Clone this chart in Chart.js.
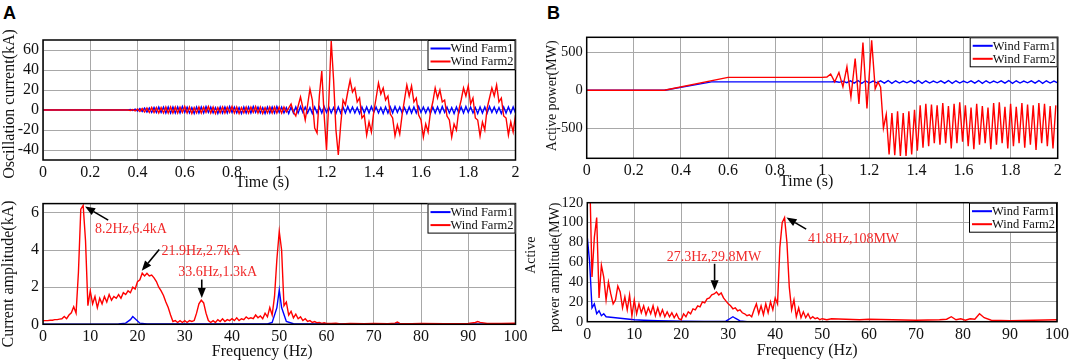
<!DOCTYPE html>
<html>
<head>
<meta charset="utf-8">
<script src="https://cdn.jsdelivr.net/npm/chart.js@4.4.1/dist/chart.umd.min.js"></script>
<style>
  body { margin: 0; background: #fff; width: 1072px; height: 361px; position: relative; overflow: hidden; }
  .panel { position: absolute; }
  .tag { position: absolute; font: bold 18px "Liberation Sans", Arial, sans-serif; line-height: 18px; color: #000; }
</style>
</head>
<body>
<div class="tag" style="left:3px;top:4px">A</div>
<div class="tag" style="left:547px;top:4px">B</div>
<div class="panel" style="left:0;top:0"><canvas id="aTop" width="536" height="192"></canvas></div>
<div class="panel" style="left:0;top:190px"><canvas id="aBottom" width="536" height="171"></canvas></div>
<div class="panel" style="left:520px;top:0"><canvas id="bTop" width="552" height="192"></canvas></div>
<div class="panel" style="left:520px;top:190px"><canvas id="bBottom" width="552" height="171"></canvas></div>
<script>
// ---------- tick values ----------
const timeTicks = [0, 0.2, 0.4, 0.6, 0.8, 1, 1.2, 1.4, 1.6, 1.8, 2];
const freqTicks = [0, 10, 20, 30, 40, 50, 60, 70, 80, 90, 100];
const currentTicks = [-40, -20, 0, 20, 40, 60];
const currentAmpTicks = [0, 2, 4, 6];
const powerTicks = [-500, 0, 500];
const powerAmpTicks = [0, 20, 40, 60, 80, 100, 120];

// ---------- A top: oscillation current (kA) ----------
// flat part as knots, then samples every 10 ms from 0.37 s
const currentRunStart = 0.37, currentRunStep = 0.01;
const wf1CurrentKnotT = [0, 0.36];
const wf1CurrentKnotV = [0, 0];
const wf1CurrentRun = [
  0.5, -0.5, 1, -1, 1.5, -1.5, 2, -2, 2, -2.5,
  2.5, -2.5, 3, -2.5, 3, -3, 3, -3, 3, -3,
  3, -3, 3.5, -2.5, 3, -3, 2.5, -3.5, 3, -3,
  3, -3, 3.5, -2.5, 3, -3, 2.5, -3.5, 3, -3,
  3, -3, 3.5, -2.5, 3, -3, 2.5, -3.5, 3, -3,
  3, -3, 3.5, -2.5, 3, -3, 2.5, -3.5, 3, -3,
  3, -3, 3.5, -2.5, 3, -3, 2.5, -3.5, 3, -3,
  3, -3, 3.5, -2.5, 3, -3, 2.5, -3.5, 3, -3,
  3, -3, 3.5, -2.5, 3, -3, 2.5, -3.5, 3, -3,
  3, -3, 3.5, -2.5, 3, -3, 2.5, -3.5, 3, -3,
  3, -3, 3.5, -2.5, 3, -3, 2.5, -3.5, 3, -3,
  3, -3, 3.5, -2.5, 3, -3, 2.5, -3.5, 3, -3,
  3, -3, 3.5, -2.5, 3, -3, 2.5, -3.5, 3, -3,
  3, -3, 3.5, -2.5, 3, -3, 2.5, -3.5, 3, -3,
  3, -3, 3.5, -2.5, 3, -3, 2.5, -3.5, 3, -3,
  3, -3, 3.5, -2.5, 3, -3, 2.5, -3.5, 3, -3,
  3, -3, 3, -3
];
const wf2CurrentKnotT = [0, 0.36];
const wf2CurrentKnotV = [0, 0];
const wf2CurrentRun = [
  -0.5, 0.5, -1, 1, -1.5, 1.5, -2, 2, -2.5, 2.5,
  -2.5, 2.5, -3, 2.5, -3, 3, -3, 3, -3, 3,
  -3, 3, -2.5, 3.5, -3, 3, -3.5, 2.5, -3, 3,
  -3, 3, -2.5, 3.5, -3, 3, -3.5, 2.5, -3, 3,
  -3, 3, -2.5, 3.5, -3, 3, -3.5, 2.5, -3, 3,
  -3, 3, -2.5, 3.5, -3, 3, -3.5, 2.5, -3, 3,
  -3, 3, -3,
  3, -3, 3, -2, 2, 6, -2, -6, 4, 13,
  2, -10, 5, 21, 10, -18, -23, 15, 39, -5,
  -40, 10, 69, 30, -20, -45, -15, 10, 5, 18,
  30, 18, 22, 8, 12, -8, -5, -25, -12, -22,
  -2, 12, 27, 16, 22, 10, 14, -4, -8, -26,
  -15, -24, -5, 10, 25, 14, 24, 8, 12, -5,
  -10, -27, -14, -22, -2, 8, 22, 12, 20, 8,
  10, -6, -10, -27, -14, -20, 0, 10, 22, 14,
  24, 6, 12, -8, -10, -26, -12, -20, 2, 12,
  22, 14, 25, 8, 12, -6, -8, -25, -12, -22,
  -5
];

// ---------- A bottom: current amplitude spectrum (kA) ----------
const wf1CurAmpKnotF = [0, 16, 17.5, 18.5, 19, 19.5, 20.5, 22, 47.5, 48.5, 49.5, 50, 50.5, 51.5, 53, 100];
const wf1CurAmpKnotV = [0, 0.02, 0.06, 0.25, 0.42, 0.3, 0.06, 0.02, 0.02, 0.1, 0.9, 1.85, 0.9, 0.15, 0.03, 0];
const curAmpRunStart = 0, curAmpRunStep = 0.5;
const wf2CurAmpRun = [
  0.2, 0.2, 0.2, 0.22, 0.22, 0.25, 0.25, 0.28, 0.3, 0.42,
  0.3, 0.5, 0.62, 0.95, 0.6, 2.8, 6.2, 6.4, 4.5, 1.0,
  1.8, 1.1, 1.5, 0.9, 1.4, 1.1, 1.5, 1.2, 1.6, 1.3,
  1.5, 1.4, 1.6, 1.4, 1.7, 1.6, 1.8, 1.7, 2.0, 1.9,
  2.3, 2.4, 2.75, 2.6, 2.75, 2.6, 2.65, 2.5, 2.3, 2.0,
  1.8, 1.55, 1.2, 0.9, 0.5, 0.15, 0.2, 0.1, 0.2, 0.1,
  0.2, 0.1, 0.2, 0.15, 0.2, 0.6, 1.1, 1.3, 1.15, 0.6,
  0.2, 0.1, 0.2, 0.1, 0.25, 0.15, 0.3, 0.15, 0.25, 0.2,
  0.3, 0.2, 0.35, 0.2, 0.3, 0.25, 0.4, 0.3, 0.35, 0.3,
  0.5, 0.35, 0.45, 0.3, 0.6, 0.4, 0.9, 0.5, 1.5, 3.5,
  5.0, 4.0, 1.0, 1.2, 0.5, 0.7, 0.35, 0.55, 0.3, 0.4,
  0.2, 0.3, 0.15, 0.2, 0.1, 0.15, 0.08, 0.1, 0.05, 0.08,
  0.05
];
const wf2CurAmpKnotF = [61, 62, 63, 65, 68, 70, 73, 74.5, 75, 75.5, 78, 80, 85, 90, 91.5, 92, 92.5, 94, 97, 100];
const wf2CurAmpKnotV = [0.04, 0.06, 0.02, 0.05, 0.03, 0.05, 0.03, 0.06, 0.12, 0.05, 0.03, 0.05, 0.03, 0.05, 0.1, 0.15, 0.1, 0.04, 0.05, 0.06];

// ---------- B top: active power (MW) ----------
const wf1PowerKnotT = [0, 0.33, 0.53, 1.04];
const wf1PowerKnotV = [0, 0, 110, 110];
const wf1PowerRunStart = 1.056, wf1PowerRunStep = 0.016;
const wf1PowerRun = [
  115, 105, 120, 100,
  125, 95, 128, 92, 125, 95, 122, 98,
  125, 95, 128, 92, 125, 95, 122, 98,
  125, 95, 128, 92, 125, 95, 122, 98,
  125, 95, 128, 92, 125, 95, 122, 98,
  125, 95, 128, 92, 125, 95, 122, 98,
  125, 95, 128, 92, 125, 95, 122, 98,
  125, 95, 128, 92, 125, 95, 122, 98
];
const wf2PowerKnotT = [0, 0.33, 0.6, 1.0, 1.02, 1.036, 1.053, 1.071, 1.088, 1.105, 1.122, 1.14, 1.156, 1.173, 1.19, 1.21, 1.225, 1.237, 1.248];
const wf2PowerKnotV = [0, 0, 170, 170, 175, 215, 110, 235, 45, 310, -90, 420, -180, 630, -240, 660, 20, 110, 40];
const wf2PowerRunStart = 1.26, wf2PowerRunStep = 0.012;
const wf2PowerRun = [
  -500, -320, -850, -300, -860, -280, -870, -300, -870, -280,
  -850, -260, -800, -200, -760, -180, -740, -190, -700, -200,
  -720, -170, -700, -210, -770, -180, -700, -160, -680, -200,
  -740, -230, -780, -180, -720, -210, -700, -230, -780, -170,
  -720, -160, -700, -220, -770, -180, -740, -220, -700, -170,
  -760, -190, -720, -200, -790, -170, -700, -180, -740, -210,
  -770, -200
];

// ---------- B bottom: active power amplitude spectrum (MW) ----------
const wf1PowAmpKnotF = [0, 0.5, 1, 1.5, 2, 2.5, 3, 3.5, 4, 5, 6, 7, 8, 10, 12, 15, 20, 25, 29.5, 30.5, 31, 31.5, 32.5, 34, 100];
const wf1PowAmpKnotV = [85, 60, 14, 18, 8, 11, 6, 8, 5, 4.5, 4, 3.5, 3, 2, 1.5, 1, 0.5, 0.3, 0.5, 3.5, 5, 3.5, 0.8, 0, 0];
const powAmpRunStart = 0, powAmpRunStep = 0.5;
const wf2PowAmpRun = [
  180, 150, 45, 85, 105, 24, 57, 45, 22, 40,
  28, 18, 22, 36, 30, 14, 25, 12, 27, 6,
  22, 8, 18, 9, 16, 7, 14, 8, 16, 6,
  14, 6, 12, 5, 10, 5, 9, 4, 8, 3,
  2, 8, 5, 10, 8, 13, 12, 16, 15, 20,
  19, 23, 24, 27, 28, 30, 27, 29, 24, 21,
  18, 16, 13, 14, 11, 12, 9, 8, 6, 7,
  5, 12, 18, 8, 16, 7, 18, 9, 20, 12,
  24, 18, 75, 100, 105, 80, 35, 12, 22, 5,
  14, 4, 10, 4, 8, 3, 5, 3, 4, 2,
  3
];
const wf2PowAmpKnotF = [51, 52, 55, 58, 60, 65, 70, 75, 76.5, 77.5, 78.5, 79.5, 80.5, 81.5, 82.5, 83.5, 84.5, 86, 90, 95, 100];
const wf2PowAmpKnotV = [2, 3, 2.5, 2, 2.5, 2, 1.5, 2, 2.5, 5, 2, 3, 1.5, 3, 2.5, 8, 4, 1.5, 1, 1.5, 2];

// ---------- styling ----------
const RED = '#ff0000';
const BLUE = '#0000ff';
const NOTE_RED = '#f02a2a';
const GRID = '#a8a8a8';
const INK = '#111';
const SERIF = '"Liberation Serif", "Times New Roman", serif';

function buildPoints(knotX, knotY, runStart, runStep, run) {
  const pts = knotX.map((x, i) => ({ x: x, y: knotY[i] }));
  (run || []).forEach((v, i) => pts.push({ x: +(runStart + i * runStep).toFixed(4), y: v }));
  return pts.sort((a, b) => a.x - b.x);
}

function arrow(ctx, x1, y1, x2, y2) {
  const ang = Math.atan2(y2 - y1, x2 - x1);
  const head = 10, half = 4;
  const c = Math.cos(ang), s = Math.sin(ang);
  ctx.strokeStyle = '#000';
  ctx.fillStyle = '#000';
  ctx.lineWidth = 1.6;
  ctx.beginPath();
  ctx.moveTo(x1, y1);
  ctx.lineTo(x2 - head * c, y2 - head * s);
  ctx.stroke();
  ctx.beginPath();
  ctx.moveTo(x2, y2);
  ctx.lineTo(x2 - head * c + half * s, y2 - head * s - half * c);
  ctx.lineTo(x2 - head * c - half * s, y2 - head * s + half * c);
  ctx.closePath();
  ctx.fill();
}

// frame, legend, notes and axis titles drawn on top of the plot
function decor(cfg) {
  return {
    id: 'decor',
    afterDatasetsDraw(chart) {
      const { ctx, chartArea: a, scales: { x, y } } = chart;
      ctx.save();
      ctx.strokeStyle = '#000';
      ctx.lineWidth = 1.5;
      ctx.strokeRect(a.left, a.top, a.right - a.left, a.bottom - a.top);

      // annotations
      (cfg.notes || []).forEach(n => {
        ctx.font = '14px ' + SERIF;
        ctx.fillStyle = NOTE_RED;
        ctx.textAlign = 'left';
        ctx.textBaseline = 'middle';
        ctx.fillText(n.text, x.getPixelForValue(n.at[0]), y.getPixelForValue(n.at[1]));
        arrow(ctx, x.getPixelForValue(n.from[0]), y.getPixelForValue(n.from[1]),
                   x.getPixelForValue(n.to[0]), y.getPixelForValue(n.to[1]));
      });

      // legend box
      const bw = 88, bh = 30, bx = a.right - bw, by = a.top;
      ctx.fillStyle = '#fff';
      ctx.fillRect(bx, by, bw, bh);
      ctx.strokeStyle = '#000';
      ctx.lineWidth = 1;
      ctx.strokeRect(bx + 0.5, by + 0.5, bw - 1, bh - 1);
      [['Wind Farm1', BLUE], ['Wind Farm2', RED]].forEach(([label, col], i) => {
        const ly = by + 8.5 + i * 13;
        ctx.strokeStyle = col;
        ctx.lineWidth = 2;
        ctx.beginPath();
        ctx.moveTo(bx + 3, ly);
        ctx.lineTo(bx + 23, ly);
        ctx.stroke();
        ctx.fillStyle = INK;
        ctx.font = '12.5px ' + SERIF;
        ctx.textAlign = 'left';
        ctx.textBaseline = 'middle';
        ctx.fillText(label, bx + 23, ly + 0.5);
      });

      // x title
      ctx.fillStyle = INK;
      ctx.font = '16px ' + SERIF;
      ctx.textAlign = 'center';
      ctx.textBaseline = 'middle';
      ctx.fillText(cfg.xTitle.text, (a.left + a.right) / 2 + cfg.xTitle.dx, a.bottom + cfg.xTitle.dy);

      // y title lines
      cfg.yTitle.forEach(t => {
        ctx.save();
        ctx.translate(t.x, (a.top + a.bottom) / 2 + t.dy);
        ctx.rotate(-Math.PI / 2);
        ctx.font = t.size + 'px ' + SERIF;
        ctx.fillStyle = INK;
        ctx.textAlign = 'center';
        ctx.textBaseline = 'middle';
        ctx.fillText(t.text, 0, 0);
        ctx.restore();
      });
      ctx.restore();
    }
  };
}

function makeChart(id, cfg) {
  const fmt = cfg.time ? (v => String(+v.toFixed(1))) : (v => String(v));
  return new Chart(document.getElementById(id), {
    type: 'line',
    data: {
      datasets: [
        { label: 'Wind Farm2', data: cfg.red, borderColor: RED, borderWidth: 1.4, pointRadius: 0 },
        { label: 'Wind Farm1', data: cfg.blue, borderColor: BLUE, borderWidth: 1.4, pointRadius: 0 }
      ]
    },
    options: {
      responsive: false,
      animation: false,
      events: [],
      layout: { padding: { top: cfg.padTop, right: cfg.padRight, left: 0, bottom: 0 } },
      plugins: { legend: { display: false }, tooltip: { enabled: false } },
      scales: {
        x: {
          type: 'linear', min: cfg.xTicks[0], max: cfg.xTicks[cfg.xTicks.length - 1],
          afterBuildTicks: s => { s.ticks = cfg.xTicks.map(v => ({ value: v })); },
          afterFit: s => { s.height = cfg.xAxisH; },
          grid: { color: GRID, lineWidth: 1, drawTicks: false },
          border: { display: false },
          ticks: { font: { family: SERIF, size: 16 }, color: INK, padding: 3, maxRotation: 0, autoSkip: false, callback: fmt }
        },
        y: {
          min: cfg.yMin, max: cfg.yMax,
          afterBuildTicks: s => { s.ticks = cfg.yTicks.map(v => ({ value: v })); },
          afterFit: s => { s.width = cfg.yAxisW; },
          grid: { color: GRID, lineWidth: 1, drawTicks: false },
          border: { display: false },
          ticks: { font: { family: SERIF, size: cfg.yTickSize }, color: INK, padding: 4, autoSkip: false, callback: v => String(v) }
        }
      }
    },
    plugins: [decor(cfg)]
  });
}

makeChart('aTop', {
  time: true,
  red: buildPoints(wf2CurrentKnotT, wf2CurrentKnotV, currentRunStart, currentRunStep, wf2CurrentRun),
  blue: buildPoints(wf1CurrentKnotT, wf1CurrentKnotV, currentRunStart, currentRunStep, wf1CurrentRun),
  xTicks: timeTicks, yTicks: currentTicks, yMin: -50, yMax: 70,
  padTop: 40, padRight: 20.5, xAxisH: 32, yAxisW: 43, yTickSize: 16,
  xTitle: { text: 'Time (s)', dx: -17, dy: 23 },
  yTitle: [{ text: 'Oscillation current(kA)', x: 10, dy: 4, size: 16 }]
});

makeChart('aBottom', {
  red: buildPoints(wf2CurAmpKnotF, wf2CurAmpKnotV, curAmpRunStart, curAmpRunStep, wf2CurAmpRun),
  blue: buildPoints(wf1CurAmpKnotF, wf1CurAmpKnotV),
  xTicks: freqTicks, yTicks: currentAmpTicks, yMin: 0, yMax: 6.5,
  padTop: 10, padRight: 20.5, xAxisH: 36.7, yAxisW: 43, yTickSize: 16,
  xTitle: { text: 'Frequency (Hz)', dx: -17, dy: 27 },
  yTitle: [{ text: 'Current amplitude(kA)', x: 9, dy: 10, size: 16 }],
  notes: [
    { text: '8.2Hz,6.4kA', at: [11.0, 5.09], from: [13.8, 5.61], to: [8.9, 6.34] },
    { text: '21.9Hz,2.7kA', at: [25.1, 3.94], from: [24.6, 4.03], to: [20.9, 2.89] },
    { text: '33.6Hz,1.3kA', at: [28.6, 2.79], from: [33.6, 2.41], to: [33.6, 1.41] }
  ]
});

makeChart('bTop', {
  time: true,
  red: buildPoints(wf2PowerKnotT, wf2PowerKnotV, wf2PowerRunStart, wf2PowerRunStep, wf2PowerRun),
  blue: buildPoints(wf1PowerKnotT, wf1PowerKnotV, wf1PowerRunStart, wf1PowerRunStep, wf1PowerRun),
  xTicks: timeTicks, yTicks: powerTicks, yMin: -900, yMax: 700,
  padTop: 37.3, padRight: 14.3, xAxisH: 33.7, yAxisW: 66.7, yTickSize: 14.5,
  xTitle: { text: 'Time (s)', dx: -16, dy: 23 },
  yTitle: [{ text: 'Active power(MW)', x: 32, dy: -2, size: 14 }]
});

makeChart('bBottom', {
  red: buildPoints(wf2PowAmpKnotF, wf2PowAmpKnotV, powAmpRunStart, powAmpRunStep, wf2PowAmpRun),
  blue: buildPoints(wf1PowAmpKnotF, wf1PowAmpKnotV),
  xTicks: freqTicks, yTicks: powerAmpTicks, yMin: 0, yMax: 120,
  padTop: 12.3, padRight: 14.3, xAxisH: 39.3, yAxisW: 67.3, yTickSize: 14.5,
  xTitle: { text: 'Frequency (Hz)', dx: -15, dy: 29 },
  yTitle: [
    { text: 'Active', x: 11, dy: -7, size: 14 },
    { text: 'power amplitude(MW)', x: 35, dy: 5, size: 14 }
  ],
  notes: [
    { text: '27.3Hz,29.8MW', at: [16.9, 65], from: [27.1, 58.4], to: [27.1, 31.7] },
    { text: '41.8Hz,108MW', at: [47.0, 83.4], from: [46.6, 93.4], to: [42.4, 105] }
  ]
});
</script>
</body>
</html>
